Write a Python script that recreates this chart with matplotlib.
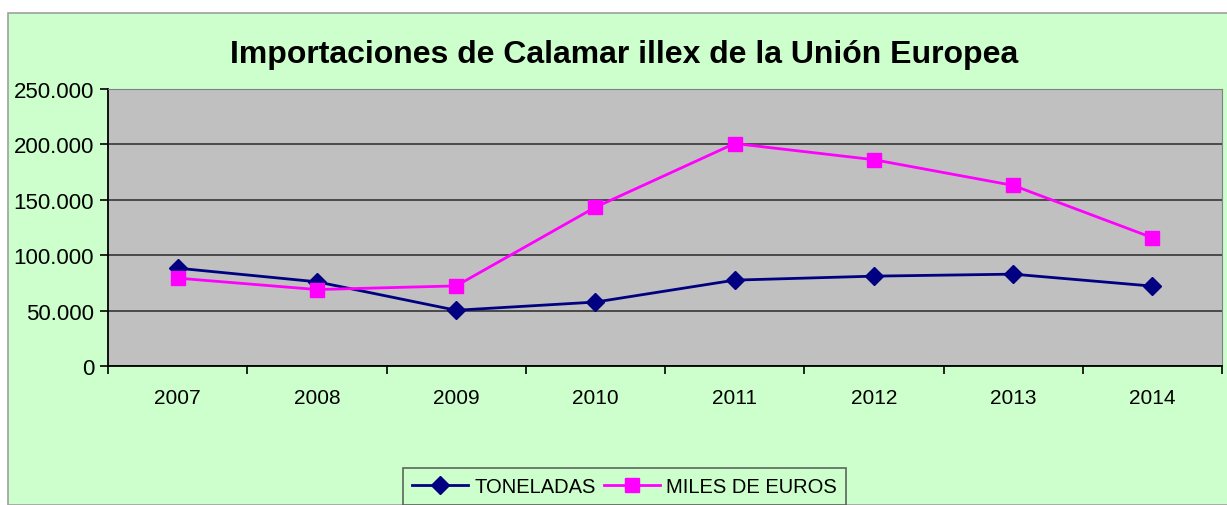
import matplotlib.pyplot as plt
from matplotlib.patches import Rectangle
from matplotlib.ticker import FuncFormatter

plt.rcParams['font.family'] = ['Liberation Sans', 'DejaVu Sans']

years = ['2007', '2008', '2009', '2010', '2011', '2012', '2013', '2014']
toneladas = [88300, 76000, 50300, 57700, 77500, 81100, 82900, 72100]
miles_euros = [79300, 69000, 72300, 143300, 200800, 186200, 163000, 115800]

fig = plt.figure(figsize=(12.27, 5.06), dpi=100, facecolor='white')

# green chart background with grey border
fig.patches.append(Rectangle((8 / 1227, 0), 1.0, 1 - 14 / 506, transform=fig.transFigure,
                             facecolor='#CCFFCC', edgecolor='#A0A0A0', linewidth=1.2, zorder=-10))

ax = fig.add_axes([108 / 1227, 1 - 367 / 506, (1222 - 108) / 1227, (367 - 90) / 506])
ax.set_facecolor('#C0C0C0')

x = list(range(len(years)))
ax.plot(x, toneladas, color='#000080', linewidth=2, marker='D', markersize=9, label='TONELADAS', zorder=3)
ax.plot(x, miles_euros, color='#FF00FF', linewidth=2, marker='s', markersize=10, label='MILES DE EUROS', zorder=3)

ax.set_xlim(-0.5, len(years) - 0.5)
ax.set_ylim(0, 250000)
ax.set_yticks(range(0, 250001, 50000))
ax.yaxis.set_major_formatter(FuncFormatter(lambda v, p: f'{int(v):,}'.replace(',', '.')))
ax.set_xticks(x)
ax.set_xticklabels(years)
ax.set_xticks([i - 0.5 for i in range(len(years) + 1)], minor=True)
ax.tick_params(axis='x', which='major', length=0, labelsize=15, pad=16)
ax.tick_params(axis='x', which='minor', length=6, width=1.2, direction='out')
ax.tick_params(axis='y', length=6, width=1.2, direction='out', labelsize=16, pad=4)

ax.grid(axis='y', color='#404040', linewidth=1.3)
ax.set_axisbelow(True)
ax.spines['left'].set_color('black')
ax.spines['bottom'].set_color('black')
ax.spines['left'].set_linewidth(1.3)
ax.spines['bottom'].set_linewidth(1.3)
ax.spines['top'].set_color('#808080')
ax.spines['right'].set_color('#808080')

fig.text(0.509, 1 - 55 / 506, 'Importaciones de Calamar illex de la Unión Europea',
         ha='center', va='center', fontsize=23, fontweight='bold')

leg = fig.legend(loc='upper center', bbox_to_anchor=(0.509, 1 - 469 / 506), ncol=2,
                 frameon=True, fancybox=False, facecolor='#CCFFCC', edgecolor='#404040',
                 fontsize=14.5, handlelength=2.8, columnspacing=0.4, handletextpad=0.3,
                 borderpad=0.45, borderaxespad=0)
leg.get_frame().set_linewidth(1.2)

fig.savefig('out.png', dpi=100, facecolor=fig.get_facecolor())
